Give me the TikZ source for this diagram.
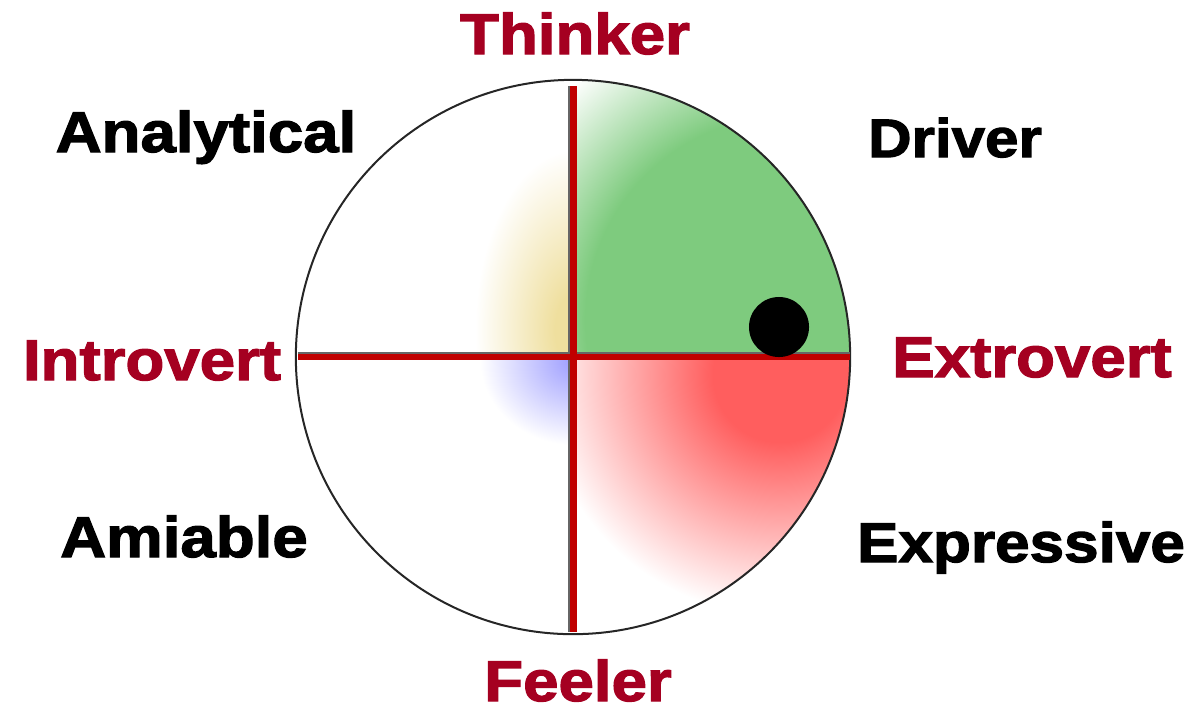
\documentclass[tikz,border=0pt]{standalone}
\usepackage{fontspec}
\usepackage{tikz}
\usetikzlibrary{positioning}
\newfontfamily\heavyfont{Liberation Sans Bold}[FakeStretch=1.11,FakeBold=2.2]
\definecolor{axisred}{HTML}{C00000}
\definecolor{labelred}{HTML}{A50021}
\definecolor{quadgreen}{HTML}{7ECB7E}
\definecolor{quadred}{HTML}{FF5E5E}
\definecolor{quadyellow}{HTML}{EFDF9E}
\definecolor{quadblue}{HTML}{9C9CFF}
\pgfdeclareradialshading{greenfade}{\pgfpoint{0bp}{0bp}}{color(0bp)=(quadgreen); color(16bp)=(quadgreen); color(25bp)=(white); color(50bp)=(white)}
\pgfdeclareradialshading{redfade}{\pgfpoint{0bp}{0bp}}{color(0bp)=(quadred); color(7bp)=(quadred); color(25bp)=(white); color(50bp)=(white)}
\pgfdeclareradialshading{yellowfade}{\pgfpoint{0bp}{0bp}}{color(0bp)=(quadyellow); color(5bp)=(quadyellow); color(25bp)=(white); color(50bp)=(white)}
\pgfdeclareradialshading{bluefade}{\pgfpoint{0bp}{0bp}}{color(0bp)=(quadblue); color(25bp)=(white); color(50bp)=(white)}
\tikzset{
  axislabel/.style={font=\heavyfont\fontsize{16.3}{18}\selectfont, text=labelred, anchor=base, inner sep=0pt},
  stylelabel/.style={font=\heavyfont\fontsize{16.3}{18}\selectfont, text=black, anchor=base, inner sep=0pt},
}
\begin{document}
\begin{tikzpicture}[x=0.01cm, y=-0.01cm]
\useasboundingbox (0,0) rectangle (1188,708);
\coordinate (centre) at (573,357);
% shaded quadrants
\begin{scope}
  \clip (centre) circle (2.77cm);
  \begin{scope}
    \clip (573,357) rectangle (860,70);
    \shade[shading=greenfade] (790,320) circle (3.2cm);
  \end{scope}
  \begin{scope}
    \clip (573,357) rectangle (860,640);
    \shade[shading=redfade] (780,375) circle (2.4cm);
  \end{scope}
  \begin{scope}
    \clip (573,357) rectangle (290,70);
    \shade[shading=yellowfade] (575,330) ellipse [x radius=1.0cm, y radius=1.8cm];
  \end{scope}
  \begin{scope}
    \clip (573,357) rectangle (290,640);
    \shade[shading=bluefade] (575,360) ellipse [x radius=0.95cm, y radius=0.85cm];
  \end{scope}
\end{scope}
\draw[black!85, line width=0.2mm] (centre) circle (2.77cm);
% axes with a thin shadow
\coordinate (top) at (573,86);
\coordinate (bottom) at (573,632);
\coordinate (left) at (298,357);
\coordinate (right) at (850,357);
\draw[black!60, line width=0.25mm] ([xshift=-0.04cm]top) -- ([xshift=-0.04cm]bottom);
\draw[black!60, line width=0.25mm] ([yshift=0.04cm]left) -- ([yshift=0.04cm]right);
\draw[axisred, line width=0.06cm] (left) -- (right);
\draw[axisred, line width=0.07cm] (top) -- (bottom);
\fill[black] (779,327) circle (0.3cm);
% axis labels
\node[axislabel] (thinker) at (575,54) {Thinker};
\node[axislabel] (feeler) at (578,701) {Feeler};
\node[axislabel] (introvert) at (152,380) {Introvert};
\node[axislabel] (extrovert) at (1032,377) {Extrovert};
% style labels
\node[stylelabel] (analytical) at (206,152) {Analytical};
\node[stylelabel, font=\heavyfont\fontsize{15.4}{17}\selectfont] (driver) at (955,157) {Driver};
\node[stylelabel] (amiable) at (184,557) {Amiable};
\node[stylelabel, font=\heavyfont\fontsize{15.9}{17}\selectfont] (expressive) at (1021,562) {Expressive};
\end{tikzpicture}
\end{document}
